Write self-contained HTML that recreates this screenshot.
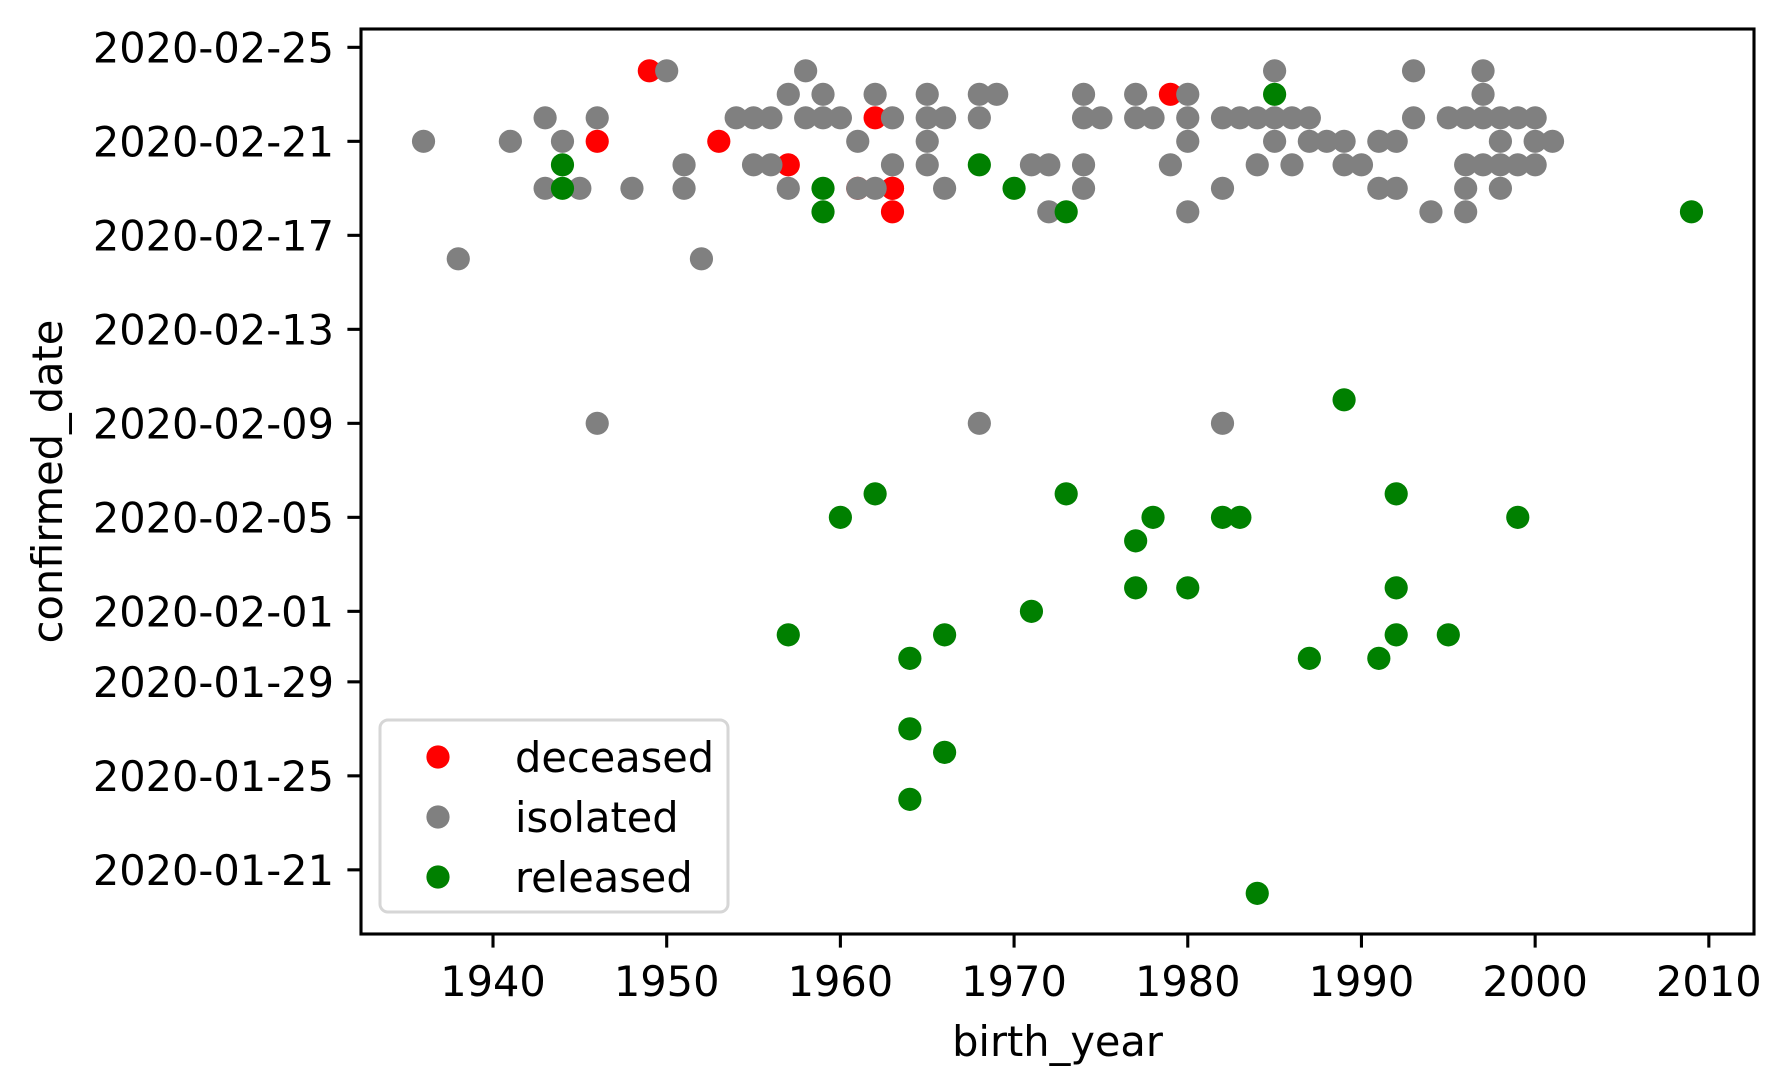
<!DOCTYPE html>
<html><head><meta charset="utf-8"><style>
html,body{margin:0;padding:0;background:#fff;}
svg{display:block;font-family:"DejaVu Sans","Liberation Sans",sans-serif;}
</style></head><body>
<svg id="chart" width="1790" height="1092" viewBox="0 0 1790 1092" xmlns="http://www.w3.org/2000/svg"></svg>
<script>
// data: birth years and confirmed dates (days since 2020-01-21)
const deceasedYears = [1949,1946,1953,1962,1979,1957,1963,1961,1963,1963];
const deceasedDays  = [34,31,31,32,33,30,29,29,29,28];
const isolatedYears = [1950,1958,1985,1993,1997,
 1957,1959,1962,1965,1968,1969,1974,1977,1980,1997,
 1943,1946,1954,1955,1956,1958,1959,1960,1963,1965,1966,1968,1974,1975,1977,1978,1980,1982,1983,1984,1985,1986,1987,1993,1995,1996,1997,1998,1999,2000,
 1936,1941,1944,1961,1965,1980,1985,1987,1988,1989,1991,1992,1998,2000,2001,
 1951,1955,1956,1963,1965,1971,1972,1974,1979,1984,1986,1989,1990,1996,1997,1998,1999,2000,
 1943,1945,1948,1951,1957,1961,1962,1966,1974,1982,1991,1992,1996,1998,
 1972,1980,1994,1996,
 1938,1952,
 1946,1968,1982];
const isolatedDays = [34,34,34,34,34,
 33,33,33,33,33,33,33,33,33,33,
 32,32,32,32,32,32,32,32,32,32,32,32,32,32,32,32,32,32,32,32,32,32,32,32,32,32,32,32,32,32,
 31,31,31,31,31,31,31,31,31,31,31,31,31,31,31,
 30,30,30,30,30,30,30,30,30,30,30,30,30,30,30,30,30,30,
 29,29,29,29,29,29,29,29,29,29,29,29,29,29,
 28,28,28,28,
 26,26,
 19,19,19];
const releasedYears = [1985,1944,1968,1944,1959,1970,1959,1973,2009,
 1989,1962,1973,1992,1960,1978,1982,1983,1999,1977,1977,1980,1992,1971,
 1957,1966,1992,1995,1964,1987,1991,1964,1966,1964,1984];
const releasedDays = [33,30,30,29,29,29,28,28,28,
 20,16,16,16,15,15,15,15,15,14,12,12,12,11,
 10,10,10,10,9,9,9,6,5,3,-1];
const xTicks = [1940,1950,1960,1970,1980,1990,2000,2010];
const yTickLabels = ["2020-01-21","2020-01-25","2020-01-29","2020-02-01","2020-02-05","2020-02-09","2020-02-13","2020-02-17","2020-02-21","2020-02-25"];
const yTickDays = [0,4,8,11,15,19,23,27,31,35];

const L=361,R=1754,T=29,B=934;
const xMin=1932.4,xMax=2012.6,yMin=-2.73,yMax=35.78;
const FS=41.5;
const sx=v=>L+(v-xMin)/(xMax-xMin)*(R-L);
const sy=v=>B-(v-yMin)/(yMax-yMin)*(B-T);
const NS="http://www.w3.org/2000/svg";
const svg=document.getElementById('chart');
function mk(tag,attrs,parent){const e=document.createElementNS(NS,tag);for(const k in attrs)e.setAttribute(k,attrs[k]);(parent||svg).appendChild(e);return e;}

const pts=mk('g',{});


function series(xs,ys,color,name){
  const g=mk('g',{fill:color},pts);
  
  
  xs.forEach((x,i)=>{
    const c=mk('circle',{cx:sx(x),cy:sy(ys[i]),r:11.6},g);
    
    
  });
}
series(deceasedYears,deceasedDays,'#ff0000','deceased');
series(isolatedYears,isolatedDays,'#808080','isolated');
series(releasedYears,releasedDays,'#008000','released');

const frame=mk('rect',{x:L,y:T,width:R-L,height:B-T,fill:'none',stroke:'#000','stroke-width':3.1});



xTicks.forEach(t=>{
  const x=sx(t);
  const ln=mk('line',{x1:x,x2:x,y1:B,y2:B+13.6,stroke:'#000','stroke-width':3.1});
  
  
  const tx=mk('text',{x:x,y:B+62,'text-anchor':'middle','font-size':FS});
  tx.textContent=t;
  
  
});
yTickDays.forEach((d,i)=>{
  const y=sy(d);
  const ln=mk('line',{x1:L-13.6,x2:L,y1:y,y2:y,stroke:'#000','stroke-width':3.1});
  
  
  const tx=mk('text',{x:L-27,y:y+15,'text-anchor':'end','font-size':FS});
  tx.textContent=yTickLabels[i];
  
  
});

const xl=mk('text',{x:(L+R)/2,y:1056,'text-anchor':'middle','font-size':FS});
xl.textContent='birth_year';


const yl=mk('text',{x:0,y:0,'text-anchor':'middle','font-size':FS,transform:'translate(62,'+((T+B)/2)+') rotate(-90)'});
yl.textContent='confirmed_date';



const lg=mk('g',{});


mk('rect',{x:380,y:720,width:348,height:192,rx:8,fill:'#fff','fill-opacity':0.8,stroke:'#d6d6d6','stroke-width':3},lg);
const legNames=['deceased','isolated','released'];
const legColors=['#ff0000','#808080','#008000'];
legNames.forEach((n,i)=>{
  const y=757+i*60;
  const e=mk('g',{},lg);
  
  
  mk('circle',{cx:438,cy:y,r:11.6,fill:legColors[i]},e);
  const t=mk('text',{x:515,y:y+15,'font-size':FS},e);
  t.textContent=n;
});
</script>
</body></html>
